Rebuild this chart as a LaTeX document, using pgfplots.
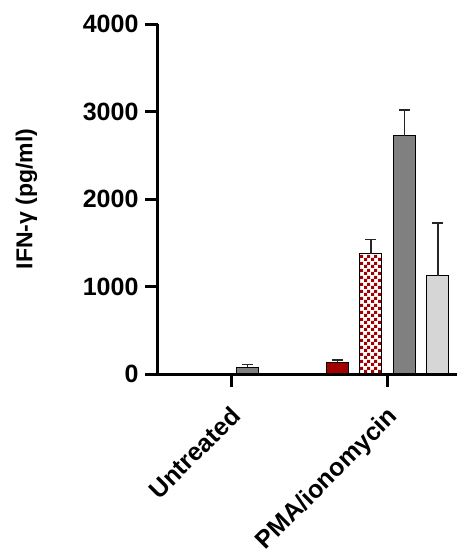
\documentclass[border=0pt]{standalone}
\usepackage{fontspec}
\setmainfont{Liberation Sans}
\usepackage{pgfplots}
\pgfplotsset{compat=1.18}
\usetikzlibrary{patterns.meta}
\pgfdeclarepattern{
  name=bigcheck,
  type=uncolored,
  bottom left={\pgfpoint{0pt}{0pt}},
  top right={\pgfpoint{7pt}{7pt}},
  tile size={\pgfpoint{7pt}{7pt}},
  code={
    \pgfpathrectangle{\pgfpoint{0pt}{0pt}}{\pgfpoint{3.5pt}{3.5pt}}
    \pgfpathrectangle{\pgfpoint{3.5pt}{3.5pt}}{\pgfpoint{3.5pt}{3.5pt}}
    \pgfusepath{fill}
  }
}
\definecolor{dred}{HTML}{A30000}
\definecolor{dgray}{HTML}{808080}
\definecolor{lgray}{HTML}{D6D6D6}
\begin{document}
\begin{tikzpicture}
\begin{axis}[
  at={(0,0)}, anchor=south west,
  scale only axis, width=299pt, height=350pt,
  xmin=-0.466, xmax=1.442, ymin=0, ymax=4000,
  axis x line*=bottom, axis y line*=left,
  axis line style={line width=3pt, black},
  xtick={0,1}, xticklabels={Untreated,PMA/ionomycin},
  ytick={0,1000,2000,3000,4000},
  tick align=outside, major tick length=13pt,
  tick style={line width=3pt, black},
  minor tick num=0,
  scaled y ticks=false,
  /pgf/number format/1000 sep={},
  /pgf/number format/assume math mode=true,
  ticklabel style={font=\fontsize{25}{29}\selectfont\bfseries},
  yticklabel style={xshift=-3pt},
  xticklabel style={font=\fontsize{25}{29}\selectfont\bfseries, xshift=-2pt, yshift=-13pt, rotate=45, anchor=north east},
  ylabel={IFN-γ (pg/ml)},
  ylabel style={font=\fontsize{23}{27}\selectfont\bfseries, at={(axis description cs:-0.44,0.5)}, anchor=center},
  ybar, bar width=0.1404,
  clip=false, axis on top,
  error bars/y dir=plus, error bars/y explicit,
  error bars/error bar style={line width=1.3pt, black!85},
  error bars/error mark options={rotate=90, mark size=5.5pt, line width=1.3pt, black!85},
]
\addplot[fill=dred, draw=black, line width=1pt, bar shift=-0.3206]
  coordinates {(0,0) +- (0,0) (1,135) +- (0,25)};
\addplot[pattern={bigcheck}, pattern color=dred, draw=black, line width=1pt, bar shift=-0.1069]
  coordinates {(0,0) +- (0,0) (1,1375) +- (0,165)};
\addplot[fill=dgray, draw=black, line width=1pt, bar shift=0.1069]
  coordinates {(0,75) +- (0,35) (1,2723) +- (0,295)};
\addplot[fill=lgray, draw=black, line width=1pt, bar shift=0.3206]
  coordinates {(0,0) +- (0,0) (1,1123) +- (0,603)};
\draw[line width=3pt, black] (axis cs:-0.466,0) -- ++(-14pt,0);
\end{axis}
\pgfresetboundingbox
\path (-158pt,-181pt) rectangle (299pt,374pt);
\end{tikzpicture}
\end{document}
